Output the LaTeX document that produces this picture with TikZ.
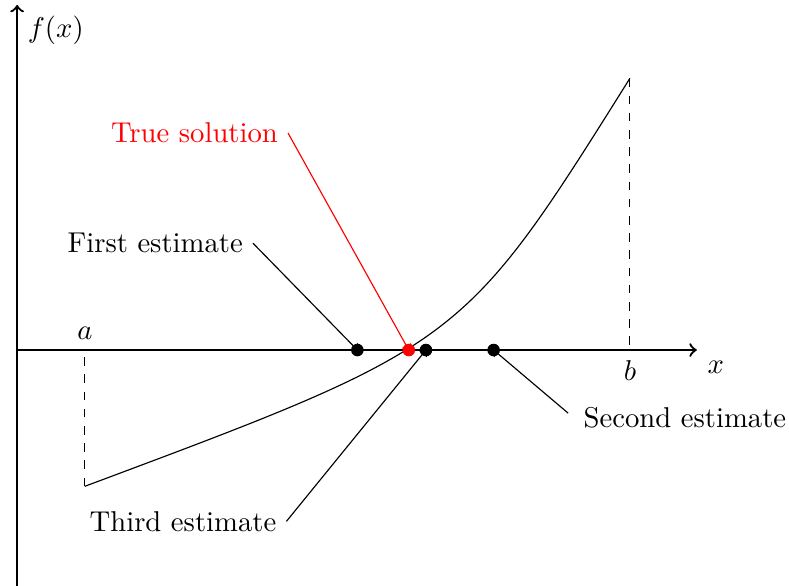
\documentclass[tikz,border=0pt]{standalone}
\usepackage{amsmath,amssymb}
\usetikzlibrary{positioning,calc,arrows}

\tikzset{
	dot/.style={circle,fill=black,inner sep=0pt,minimum size=4.4pt},
	leader/.style={->,thin},
}

\begin{document}
\begin{tikzpicture}[scale=1]
		\useasboundingbox (-0.21,-2.89) rectangle (9.46,4.29);
		% axes
		\draw[thick,->] (0,-2.89) -- (0,4.23) node[below right] (fx) {$f(x)$};
		\draw[thick,->] (0,0) -- (8.33,0) node[below right] (xlab) {$x$};
		% interval and function
		\coordinate (A) at (0.83,-1.67);
		\coordinate (B) at (7.51,3.33);
		\draw[dashed] (A) -- (0.83,0) node[above] (lbla) {$a$};
		\draw[dashed] (B) -- (7.51,0) node[below] (lblb) {$b$};
		\draw (A) .. controls (5.46,0.06) .. (B);
		% estimates
		\coordinate (est1) at (4.17,0);
		\coordinate (root) at (4.80,0);
		\coordinate (est3) at (5.01,0);
		\coordinate (est2) at (5.84,0);
		% labels
		\node[anchor=east] (first) at (2.89,1.31) {First estimate};
		\node[anchor=east,red] (truesol) at (3.32,2.66) {True solution};
		\node[anchor=east] (third) at (3.30,-2.10) {Third estimate};
		\node[anchor=west] (second) at (6.82,-0.83) {Second estimate};
		\draw[leader] (first.east) -- (est1);
		\draw[leader,red] (truesol.east) -- (root);
		\draw[leader] (third.east) -- (est3);
		\draw[leader,shorten <=2.5pt] (second.west) -- (est2);
		% dots on top
		\node[dot] (dot1) at (est1) {};
		\node[dot,fill=red] (dotr) at (root) {};
		\node[dot] (dot3) at (est3) {};
		\node[dot] (dot2) at (est2) {};
	\end{tikzpicture}
\end{document}
